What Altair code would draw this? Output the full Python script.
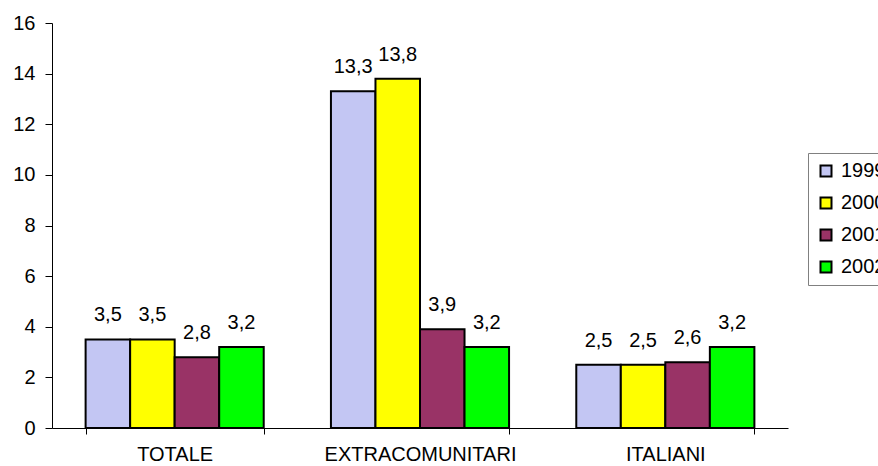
import altair as alt
import pandas as pd

# Categories, series and values
categories = ["TOTALE", "EXTRACOMUNITARI", "ITALIANI"]
years = ["1999", "2000", "2001", "2002"]
values_1999 = [3.5, 13.3, 2.5]
values_2000 = [3.5, 13.8, 2.5]
values_2001 = [2.8, 3.9, 2.6]
values_2002 = [3.2, 3.2, 3.2]
year_colors = ["#C3C6F3", "#FFFF00", "#993366", "#00FF00"]
y_ticks = [0, 2, 4, 6, 8, 10, 12, 14, 16]

series = [values_1999, values_2000, values_2001, values_2002]
rows = []
for year, vals in zip(years, series):
    for cat, v in zip(categories, vals):
        rows.append({"categoria": cat, "anno": year, "valore": v})
df = pd.DataFrame(rows)

FONT = "Liberation Sans"
FS = 20

x_enc = alt.X(
    "categoria:N",
    sort=categories,
    title=None,
    scale=alt.Scale(paddingInner=0.274, paddingOuter=0.137),
    axis=alt.Axis(
        labelAngle=0,
        labelFontSize=FS,
        labelFont=FONT,
        labelColor="#000000",
        labelPadding=10,
        labelLimit=0,
        tickBand="extent",
        tickSize=6,
        tickColor="#000000",
        domainColor="#000000",
        grid=False,
    ),
)

base = alt.Chart(df).encode(
    x=x_enc,
    xOffset=alt.XOffset("anno:N", sort=years),
)

bars = base.mark_bar(stroke="#000000", strokeWidth=2).encode(
    y=alt.Y(
        "valore:Q",
        title=None,
        scale=alt.Scale(domain=[0, 16], nice=False),
        axis=alt.Axis(
            values=y_ticks,
            labelFontSize=FS,
            labelFont=FONT,
            labelColor="#000000",
            labelPadding=10,
            tickSize=7,
            tickColor="#000000",
            domainColor="#000000",
            grid=False,
        ),
    ),
    color=alt.Color(
        "anno:N",
        sort=years,
        scale=alt.Scale(domain=years, range=year_colors),
        legend=alt.Legend(
            title=None,
            orient="none",
            legendX=756,
            legendY=130,
            symbolType="square",
            symbolSize=121,
            symbolStrokeColor="#000000",
            symbolStrokeWidth=2,
            symbolOpacity=1,
            labelFontSize=FS,
            labelFont=FONT,
            labelColor="#000000",
            labelOffset=5,
            labelLimit=0,
            rowPadding=12,
            padding=8,
            strokeColor="#808080",
            fillColor="#FFFFFF",
        ),
    ),
)

labels = base.mark_text(
    baseline="alphabetic",
    align="center",
    dy=-18,
    fontSize=FS,
    font=FONT,
    color="#000000",
).transform_calculate(
    etichetta="replace(format(datum.valore, '.1f'), '.', ',')"
).encode(
    y="valore:Q",
    text="etichetta:N",
)

chart = (
    alt.layer(bars, labels)
    .properties(
        width=736,
        height=405,
        autosize=alt.AutoSizeParams(type="none"),
        padding={"left": 52, "top": 23, "right": 90, "bottom": 38},
        background="#FFFFFF",
    )
    .configure_view(stroke=None)
)

chart.save("out.html", embed_options={"renderer": "svg", "actions": False})
